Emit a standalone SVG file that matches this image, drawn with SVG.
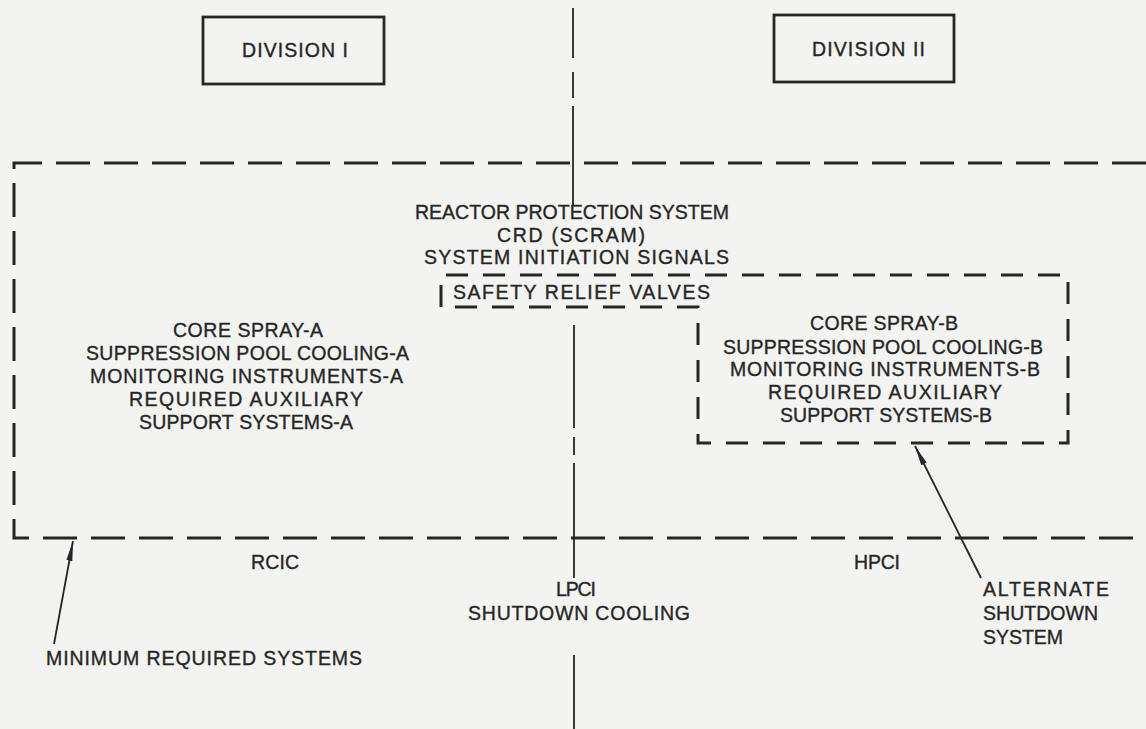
<svg xmlns="http://www.w3.org/2000/svg" width="1146" height="729" viewBox="0 0 1146 729">
<defs>
<style>
.t{font-family:"Liberation Sans",Arial,sans-serif;font-size:19.5px;fill:#262626;stroke:#262626;stroke-width:0.35px;}
.box{fill:none;stroke:#262626;stroke-width:2.8;}
.big{fill:none;stroke:#262626;stroke-width:3;stroke-dasharray:34 14;}
.alt{fill:none;stroke:#262626;stroke-width:3;stroke-dasharray:22 15;}
.ln{fill:none;stroke:#262626;stroke-width:1.8;}
</style>
<marker id="ah" viewBox="0 0 20 8" refX="20" refY="4" markerWidth="20" markerHeight="8" markerUnits="userSpaceOnUse" orient="auto">
<path d="M0,1 L20,4 L0,7 Z" fill="#262626"/>
</marker>
</defs>
<rect width="1146" height="729" fill="#f3f3f1"/>

<g id="center-divider">
<path class="ln" d="M573,8 V58 M573,72 V98 M573,106 V205 M574,325 V428 M574,437 V455 M574,463 V578 M574,655 V729"/>
</g>

<g id="division-1">
<rect class="box" x="203" y="17" width="181" height="67"/>
<text class="t" x="242" y="57" textLength="106" lengthAdjust="spacing">DIVISION I</text>
</g>

<g id="division-2">
<rect class="box" x="774" y="15" width="180" height="67"/>
<text class="t" x="812" y="56" textLength="113" lengthAdjust="spacing">DIVISION II</text>
</g>

<g id="minimum-required-systems">
<path class="big" d="M1146,163 H14 V538 H1146"/>
<text class="t" x="415" y="219" textLength="314" lengthAdjust="spacing">REACTOR PROTECTION SYSTEM</text>
<text class="t" x="497" y="242" textLength="148" lengthAdjust="spacing">CRD (SCRAM)</text>
<text class="t" x="424" y="264" textLength="305" lengthAdjust="spacing">SYSTEM INITIATION SIGNALS</text>
<text class="t" x="173" y="337" textLength="150" lengthAdjust="spacing">CORE SPRAY-A</text>
<text class="t" x="86" y="360" textLength="323" lengthAdjust="spacing">SUPPRESSION POOL COOLING-A</text>
<text class="t" x="90" y="383" textLength="313" lengthAdjust="spacing">MONITORING INSTRUMENTS-A</text>
<text class="t" x="129" y="406" textLength="234" lengthAdjust="spacing">REQUIRED AUXILIARY</text>
<text class="t" x="139" y="429" textLength="214" lengthAdjust="spacing">SUPPORT SYSTEMS-A</text>
</g>

<g id="alternate-shutdown-system">
<path class="alt" d="M441,307 V275 H1068 V443 H698 V307 Z"/>
<text class="t" x="453" y="299" textLength="257" lengthAdjust="spacing">SAFETY RELIEF VALVES</text>
<text class="t" x="810" y="330" textLength="148" lengthAdjust="spacing">CORE SPRAY-B</text>
<text class="t" x="723" y="354" textLength="320" lengthAdjust="spacing">SUPPRESSION POOL COOLING-B</text>
<text class="t" x="730" y="376" textLength="310" lengthAdjust="spacing">MONITORING INSTRUMENTS-B</text>
<text class="t" x="768" y="399" textLength="234" lengthAdjust="spacing">REQUIRED AUXILIARY</text>
<text class="t" x="780" y="422" textLength="212" lengthAdjust="spacing">SUPPORT SYSTEMS-B</text>
</g>

<g id="outside-labels">
<text class="t" x="251" y="569" textLength="48" lengthAdjust="spacing">RCIC</text>
<text class="t" x="854" y="569" textLength="46" lengthAdjust="spacing">HPCI</text>
<text class="t" x="556" y="596" textLength="40" lengthAdjust="spacing">LPCI</text>
<text class="t" x="468" y="620" textLength="222" lengthAdjust="spacing">SHUTDOWN COOLING</text>
</g>

<g id="label-minimum">
<text class="t" x="46" y="665" textLength="316" lengthAdjust="spacing">MINIMUM REQUIRED SYSTEMS</text>
</g>

<g id="label-alternate">
<text class="t" x="983" y="596" textLength="126" lengthAdjust="spacing">ALTERNATE</text>
<text class="t" x="983" y="620" textLength="115" lengthAdjust="spacing">SHUTDOWN</text>
<text class="t" x="983" y="644" textLength="80" lengthAdjust="spacing">SYSTEM</text>
</g>

<g id="connectors">
<line class="ln" x1="54" y1="644" x2="73" y2="541" marker-end="url(#ah)"/>
<line class="ln" x1="981" y1="578" x2="915" y2="446" marker-end="url(#ah)"/>
</g>
</svg>
